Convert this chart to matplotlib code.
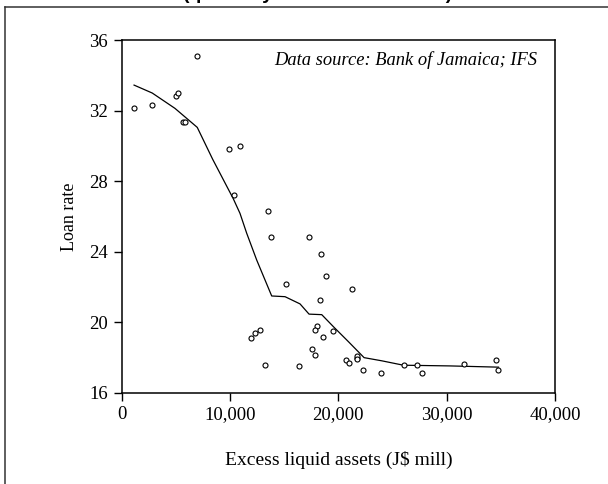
import numpy as np
import matplotlib
matplotlib.use('Agg')
import matplotlib.pyplot as plt
from matplotlib.ticker import FuncFormatter
from matplotlib.lines import Line2D

# -----------------------------------
#  Dados: ativos líquidos vs taxa
# -----------------------------------
excess_assets = [1136, 2826, 4986, 5171, 5688, 5817, 6953, 9936, 10924, 10342,
                 13509, 13786, 17268, 18404, 18865, 15143, 21294, 18283, 18006, 17877,
                 19484, 18560, 11940, 12312, 12798, 13232, 16400, 17545, 17850, 20712,
                 21017, 21700, 21700, 21750, 22310, 23972, 26040, 27268, 27702, 31608,
                 34535, 34776]
loan_rate = [32.16, 32.30, 32.82, 32.98, 31.37, 31.37, 35.11, 29.80, 29.99, 27.23,
             26.29, 24.81, 24.81, 23.88, 22.63, 22.15, 21.90, 21.26, 19.78, 19.56,
             19.48, 19.16, 19.10, 19.37, 19.56, 17.59, 17.51, 18.46, 18.14, 17.85,
             17.68, 17.95, 18.05, 17.90, 17.30, 17.13, 17.55, 17.55, 17.13, 17.61,
             17.84, 17.29]

# curva suavizada
smooth_x = [1150, 2826, 4922, 6981, 8403, 10305, 10924, 11543, 12466, 13850,
            15080, 16464, 17296, 18468, 19540, 20924, 22374, 24008, 26003, 30316, 34776]
smooth_y = [33.45, 33.00, 32.13, 31.05, 29.24, 27.00, 26.17, 25.04, 23.52, 21.48,
            21.44, 21.03, 20.45, 20.42, 19.74, 18.89, 17.98, 17.80, 17.55, 17.51, 17.44]

x_ticks = [0, 10000, 20000, 30000, 40000]
y_ticks = [16, 20, 24, 28, 32, 36]

serif = ['Liberation Serif', 'DejaVu Serif']

fig = plt.figure(figsize=(6.08, 4.84), dpi=100)
ax = fig.add_axes([0.200, 0.189, 0.713, 0.728])

ax.plot(smooth_x, smooth_y, color='black', linewidth=0.9, zorder=2)
ax.scatter(excess_assets, loan_rate, s=13, facecolors='white', edgecolors='black',
           linewidths=0.8, zorder=3)

ax.set_xlim(0, 40000)
ax.set_ylim(16, 36)
ax.set_xticks(x_ticks)
ax.set_yticks(y_ticks)
ax.xaxis.set_major_formatter(FuncFormatter(lambda v, p: f'{int(v):,}'))
ax.tick_params(direction='out', length=6, width=1, labelsize=13.5, pad=4)
for lab in ax.get_xticklabels() + ax.get_yticklabels():
    lab.set_family(serif)
for s in ax.spines.values():
    s.set_linewidth(1.1)

ax.set_xlabel('Excess liquid assets (J$ mill)', fontsize=14, family=serif, labelpad=20)
ax.set_ylabel('Loan rate', fontsize=13, family=serif, labelpad=8)

ax.text(0.958, 0.943, 'Data source: Bank of Jamaica; IFS', transform=ax.transAxes,
        ha='right', va='center', fontsize=13.3, style='italic', family=serif)

# moldura externa e título cortado
fig.add_artist(Line2D([4.5 / 608, 4.5 / 608], [0, 1 - 7 / 484], color='#333333',
                      linewidth=1.1, transform=fig.transFigure))
fig.add_artist(Line2D([4.5 / 608, 1], [1 - 7 / 484, 1 - 7 / 484], color='#333333',
                      linewidth=1.1, transform=fig.transFigure))
fig.text(0.523, 1.003, '(quarterly data: 1991 to 2002)', ha='center', va='baseline',
         fontsize=14, fontweight='bold', family=['Liberation Sans', 'DejaVu Sans'])

fig.savefig('out.png', dpi=100)
